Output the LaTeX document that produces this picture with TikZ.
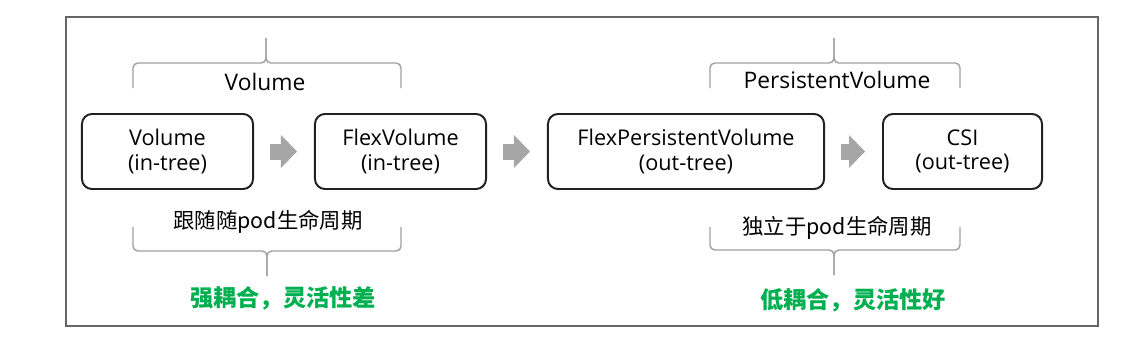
\documentclass[tikz,border=0pt]{standalone}
\usepackage{fontspec}
\setmainfont{Open Sans}
\newfontfamily\cjk{Noto Sans CJK SC}
\usetikzlibrary{arrows.meta}
\definecolor{okgreen}{RGB}{0,176,80}
\definecolor{bracegray}{RGB}{160,160,160}
\definecolor{blockgray}{RGB}{166,166,166}

\begin{document}
\begin{tikzpicture}[
  x=0.025cm, y=-0.025cm,
  font=\fontsize{15.4}{17.2}\selectfont,
  every node/.style={align=center},
  stage/.style  ={rectangle, rounded corners=2.5mm, draw=black!87, line width=1.4pt,
                  fill=white, minimum width=42.75mm, minimum height=18.75mm},
  wide/.style   ={stage, minimum width=69mm},
  narrow/.style ={stage, minimum width=39.75mm},
  flow/.style   ={-{Triangle[length=4mm, width=8.25mm, line width=0pt]}, line width=4mm,
                  draw=blockgray, shorten <=4mm, shorten >=4.25mm},
  brace/.style  ={draw=bracegray, line width=1pt, rounded corners=1.2mm},
  group/.style  ={anchor=base, font=\fontsize{16.2}{19}\selectfont},
  note/.style   ={font=\cjk\fontsize{15.2}{18}\selectfont},
  verdict/.style={font=\cjk\bfseries\fontsize{16.5}{20}\selectfont, text=okgreen},
]

% Frame
\useasboundingbox (0,0) rectangle (1142,355);
\draw[draw=black!60, line width=1pt] (66,17) rectangle (1098,326);

% Stages left -> right
\node[stage]  (intree)  at (167.5,151.5) {Volume\\(in-tree)};
\node[stage]  (flexvol) at (400.5,151.5) {FlexVolume\\(in-tree)};
\node[wide]   (flexpv)  at (686,151.5)   {FlexPersistentVolume\\(out-tree)};
\node[narrow] (csi)     at (962.5,151.5) {CSI\\(out-tree)};

% Block arrows between stages
\draw[flow] (intree)  -- (flexvol);
\draw[flow] (flexvol) -- (flexpv);
\draw[flow] (flexpv)  -- (csi);

% Upper braces with group names
\draw[brace] (133,88) |- (266,63) -- (266,38);
\draw[brace] (401,88) |- (266,63) -- (266,38);
\node[group] (volgroup) at (265,90) {Volume};

\draw[brace] (710,88) |- (834,63) -- (834,38);
\draw[brace] (960,88) |- (834,63) -- (834,38);
\node[group] (pvgroup) at (837,88) {PersistentVolume};

% Lower braces with lifecycle notes
\node[note] (podbound) at (268,222) {跟随随pod生命周期};
\draw[brace] (133,227) |- (267,251) -- (267,276);
\draw[brace] (401,227) |- (267,251) -- (267,276);
\node[verdict] (tight) at (283,298) {强耦合，灵活性差};

\node[note] (podfree) at (837,228) {独立于pod生命周期};
\draw[brace] (710,227) |- (834,250) -- (834,275);
\draw[brace] (960,227) |- (834,250) -- (834,275);
\node[verdict] (loose) at (853,300) {低耦合，灵活性好};

\end{tikzpicture}
\end{document}
